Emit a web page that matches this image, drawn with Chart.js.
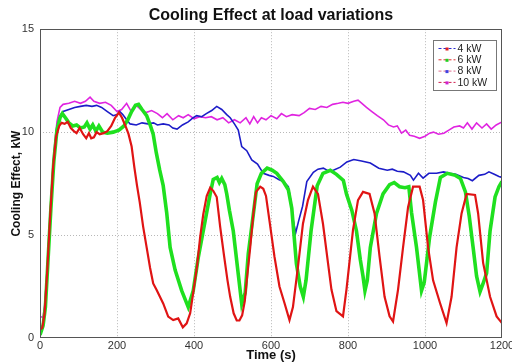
<!DOCTYPE html>
<html>
<head>
<meta charset="utf-8">
<title>Cooling Effect at load variations</title>
<script src="https://cdn.jsdelivr.net/npm/chart.js@4/dist/chart.umd.min.js"></script>
<style>
  html, body { margin: 0; padding: 0; background: #fff; }
  #wrap { width: 512px; height: 363px; }
</style>
</head>
<body>
<div id="wrap"><canvas id="coolChart" width="512" height="363"></canvas></div>
<script>
/*  Cooling effect vs time, four load levels  */

/* ====== DATA (time s, cooling effect kW) ====== */
var seriesNames = ["4 kW", "6 kW", "8 kW", "10 kW"];
var xTicks = [0, 200, 400, 600, 800, 1000, 1200];
var yTicks = [0, 5, 10, 15];

var load4 = [[0,0.5],[8,0.6],[14,1.5],[20,3.5],[28,6.3],[36,8.8],[44,10.2],[52,10.8],[60,11.0],[75,11.1],
  [90,11.2],[105,11.25],[120,11.3],[135,11.25],[147,11.3],[160,11.2],[175,11.0],[190,10.8],[200,10.85],
  [207,11.0],[215,10.85],[225,10.6],[234,10.4],[250,10.35],[265,10.45],[280,10.4],[295,10.45],[305,10.35],
  [320,10.4],[335,10.35],[345,10.2],[356,10.15],[370,10.35],[385,10.5],[398,10.7],[407,10.8],[420,10.75],
  [432,10.9],[446,11.05],[459,11.25],[472,11.1],[485,10.85],[494,10.7],[505,10.4],[515,10.1],[524,9.3],
  [537,9.1],[550,8.65],[565,8.45],[580,8.0],[595,7.9],[606,7.85],[620,7.7],[632,7.6],[645,7.35],[652,6.6],
  [658,5.7],[664,5.1],[672,5.7],[682,6.4],[693,7.6],[710,8.05],[722,8.2],[736,8.25],[750,8.1],[762,8.15],
  [780,8.3],[797,8.55],[815,8.67],[835,8.6],[858,8.5],[880,8.25],[902,8.15],[915,8.2],[928,8.1],[944,8.07],
  [962,7.9],[970,7.67],[983,8.0],[995,7.77],[1010,8.0],[1030,8.0],[1048,8.07],[1065,8.0],[1080,7.95],
  [1100,7.8],[1112,7.75],[1123,7.64],[1140,7.9],[1155,7.95],[1166,8.07],[1180,7.95],[1192,7.85],[1200,7.8]];

var load6 = [[0,0.15],[8,0.6],[14,1.5],[20,3.5],[28,6.2],[36,8.6],[44,10.1],[52,10.7],[58,10.9],[66,10.7],
  [75,10.45],[85,10.3],[95,10.35],[105,10.2],[115,10.25],[122,10.45],[130,10.15],[137,10.35],[145,10.05],
  [153,10.3],[163,10.0],[175,9.95],[190,10.0],[205,10.1],[218,10.3],[228,10.6],[238,11.0],[248,11.3],
  [256,11.35],[265,11.1],[277,10.8],[287,10.3],[294,9.9],[302,9.0],[311,8.15],[320,7.4],[329,6.1],
  [338,4.4],[351,3.3],[368,2.3],[385,1.5],[398,2.3],[411,3.9],[429,5.7],[442,7.0],[450,7.7],[460,7.8],
  [466,7.55],[472,7.75],[480,7.45],[485,7.0],[492,6.2],[502,5.2],[515,3.1],[524,1.65],[533,2.2],[541,4.1],
  [554,6.0],[564,7.5],[575,8.0],[590,8.25],[603,8.15],[615,8.0],[632,7.6],[645,7.2],[654,6.3],[666,3.6],
  [676,2.5],[684,2.0],[691,2.8],[704,5.2],[712,6.3],[720,7.4],[735,8.0],[754,8.15],[770,7.95],[788,7.65],
  [796,7.0],[810,6.2],[822,5.2],[832,3.8],[839,3.0],[844,2.3],[850,2.8],[858,4.4],[874,6.05],[891,7.0],
  [908,7.45],[920,7.55],[934,7.35],[948,7.3],[958,7.35],[965,6.1],[978,4.4],[991,2.3],[998,2.7],[1005,3.8],
  [1012,4.9],[1027,6.6],[1040,7.8],[1058,8.0],[1079,7.9],[1092,7.75],[1105,7.1],[1115,5.9],[1125,4.4],
  [1134,3.0],[1143,2.25],[1150,2.6],[1160,3.15],[1169,5.2],[1182,6.85],[1192,7.35],[1200,7.6]];

var load8 = [[0,1.05],[8,1.0],[12,1.6],[20,3.7],[28,6.5],[36,9.0],[44,10.5],[52,11.2],[60,11.35],[75,11.4],
  [90,11.5],[105,11.4],[118,11.5],[130,11.7],[140,11.5],[155,11.4],[170,11.45],[185,11.3],[200,11.0],
  [212,11.1],[225,11.4],[237,11.0],[250,11.3],[262,11.1],[275,10.95],[290,11.05],[305,10.9],[318,10.7],
  [330,10.9],[345,10.6],[360,10.8],[372,10.7],[385,10.85],[400,10.65],[415,10.75],[430,10.7],[445,10.75],
  [460,10.6],[475,10.7],[490,10.45],[505,10.6],[520,10.45],[535,10.7],[545,10.4],[555,10.75],[565,10.45],
  [575,10.7],[587,10.6],[600,10.8],[615,10.65],[627,10.9],[640,10.75],[655,10.85],[673,10.8],[686,10.95],
  [700,11.15],[715,11.1],[730,11.25],[745,11.2],[760,11.35],[775,11.4],[787,11.45],[800,11.4],[815,11.5],
  [826,11.55],[836,11.4],[848,11.2],[862,11.0],[876,10.8],[892,10.6],[905,10.35],[918,10.25],[928,10.3],
  [939,9.95],[950,10.1],[960,9.85],[972,9.8],[986,9.7],[1000,9.8],[1012,9.95],[1022,10.0],[1035,9.9],
  [1049,9.95],[1062,10.1],[1075,10.25],[1090,10.3],[1100,10.2],[1110,10.45],[1122,10.15],[1134,10.45],
  [1148,10.2],[1160,10.4],[1172,10.15],[1185,10.35],[1200,10.5]];

var load10 = [[0,0.4],[6,0.5],[12,1.2],[18,3.0],[26,5.8],[34,8.3],[42,9.8],[50,10.3],[56,10.45],[64,10.4],
  [72,10.5],[80,10.2],[88,10.05],[95,9.95],[103,10.2],[112,9.9],[120,9.7],[127,9.95],[133,9.7],[140,9.75],
  [147,10.0],[155,9.9],[165,9.95],[175,10.05],[185,10.3],[195,10.7],[205,10.95],[213,10.7],[222,10.3],
  [230,9.9],[238,9.3],[245,8.3],[252,7.4],[259,6.6],[268,5.4],[277,4.4],[286,3.4],[294,2.65],[303,2.33],
  [320,1.68],[333,1.04],[346,0.87],[359,0.95],[371,0.52],[381,0.71],[390,1.2],[398,2.2],[408,3.5],[416,4.9],
  [424,6.0],[433,6.9],[442,7.3],[450,7.15],[459,6.85],[468,5.4],[478,4.0],[487,2.8],[494,2.0],[503,1.2],
  [511,0.85],[518,0.85],[525,1.1],[532,1.8],[537,2.8],[546,4.4],[554,6.0],[561,7.1],[572,7.35],[580,7.25],
  [587,6.9],[596,5.7],[609,3.95],[622,2.5],[635,1.7],[648,0.87],[657,1.5],[670,3.45],[683,5.55],[696,6.7],
  [709,7.35],[722,7.0],[735,5.55],[748,3.65],[757,2.35],[770,1.3],[787,1.05],[796,2.35],[813,5.25],
  [826,6.7],[839,7.1],[856,7.0],[869,6.05],[882,3.95],[895,2.0],[908,1.05],[917,0.8],[930,2.35],[943,4.4],
  [956,6.35],[969,7.35],[986,7.35],[995,6.7],[1008,4.4],[1021,2.8],[1039,1.7],[1056,0.72],[1069,2.0],
  [1082,4.4],[1095,6.05],[1108,7.0],[1130,6.95],[1138,6.05],[1151,3.65],[1169,2.0],[1186,1.05],[1200,0.72]];

/* legend swatches: line colour + marker colour, as in the figure */
var legendLine = ["#2b2bd0", "#e03030", "#e07090", "#d02050"];
var legendMark = ["#e02020", "#20d020", "#4040e0", "#d020d0"];

var FONT = "'Liberation Sans', Arial, Helvetica, sans-serif";

function toPoints(pairs) {
    return pairs.map(function (p) { return { x: p[0], y: p[1] }; });
}

/* ====== PLOT BOX + LEGEND ====== */
var boxPlugin = {
    id: "boxPlugin",
    afterDraw: function (chart) {
        var ctx = chart.ctx, a = chart.chartArea;
        ctx.save();
        ctx.strokeStyle = "#555";
        ctx.lineWidth = 1;
        ctx.strokeRect(Math.round(a.left) + 0.5, Math.round(a.top) + 0.5,
            Math.round(a.right - a.left) - 1, Math.round(a.bottom - a.top) - 1);

        // legend box, top right inside the axes
        var bw = 63, bh = 50;
        var bx = Math.round(a.right) - bw - 6 + 0.5, by = Math.round(a.top) + 11 + 0.5;
        ctx.fillStyle = "#fff";
        ctx.fillRect(bx, by, bw, bh);
        ctx.strokeStyle = "#777";
        ctx.strokeRect(bx, by, bw, bh);
        ctx.font = "10.5px " + FONT;
        ctx.textBaseline = "middle";
        ctx.textAlign = "left";
        seriesNames.forEach(function (name, i) {
            var yy = by + 8 + i * 11.3;
            ctx.strokeStyle = legendLine[i];
            ctx.lineWidth = 1;
            ctx.setLineDash([3, 2]);
            ctx.beginPath();
            ctx.moveTo(bx + 5, yy);
            ctx.lineTo(bx + 22, yy);
            ctx.stroke();
            ctx.setLineDash([]);
            ctx.fillStyle = legendMark[i];
            ctx.fillRect(bx + 12, yy - 1, 3, 3);
            ctx.fillStyle = "#222";
            ctx.fillText(name, bx + 24, yy + 0.5);
        });
        ctx.restore();
    }
};

function edgeGrid(ctx) {
    var n = ctx.scale.ticks.length;
    return (ctx.index === 0 || ctx.index === n - 1) ? "rgba(0,0,0,0)" : "#b8b8b8";
}

function plainTick(value) { return String(value); }

/* ====== CHART ====== */
var chart = new Chart(document.getElementById("coolChart").getContext("2d"), {
    type: "line",
    data: {
        datasets: [
            { label: seriesNames[0], data: toPoints(load4), borderColor: "#1c1cc8",
              borderWidth: 1.6, order: 3 },
            { label: seriesNames[1], data: toPoints(load6), borderColor: "#1fe01f",
              borderWidth: 3.6, order: 2 },
            { label: seriesNames[2], data: toPoints(load8), borderColor: "#e024e0",
              borderWidth: 1.6, order: 4 },
            { label: seriesNames[3], data: toPoints(load10), borderColor: "#e01414",
              borderWidth: 2.2, order: 1 }
        ]
    },
    options: {
        responsive: false,
        animation: false,
        devicePixelRatio: 1,
        layout: { padding: { left: 0, right: 10, top: 0, bottom: 0 } },
        elements: {
            point: { radius: 0 },
            line: { tension: 0, fill: false }
        },
        plugins: {
            legend: { display: false },
            tooltip: { enabled: false },
            title: {
                display: true,
                text: "Cooling Effect at load variations",
                fullSize: false,
                color: "#111",
                font: { family: FONT, size: 16, weight: "bold" },
                padding: { top: 6, bottom: 4 }
            }
        },
        scales: {
            x: {
                type: "linear",
                min: 0, max: 1200,
                afterBuildTicks: function (s) { s.ticks = xTicks.map(function (v) { return { value: v }; }); },
                afterFit: function (s) { s.height = 25; s.paddingLeft = 0; s.paddingRight = 0; },
                ticks: { color: "#333", padding: 1, maxRotation: 0, callback: plainTick,
                         font: { family: FONT, size: 11 } },
                grid: { color: edgeGrid, drawTicks: false, lineWidth: 1 },
                border: { display: false, dash: [1, 2] },
                title: { display: true, text: "Time (s)", color: "#111",
                         font: { family: FONT, size: 13, weight: "bold" },
                         padding: { top: 0, bottom: 0 } }
            },
            y: {
                min: 0, max: 15,
                afterBuildTicks: function (s) { s.ticks = yTicks.map(function (v) { return { value: v }; }); },
                afterFit: function (s) { s.width = 40; s.paddingTop = 0; s.paddingBottom = 0; },
                ticks: { color: "#333", padding: 6, callback: plainTick,
                         font: { family: FONT, size: 11 } },
                grid: { color: edgeGrid, drawTicks: false, lineWidth: 1 },
                border: { display: false, dash: [1, 2] },
                title: { display: true, text: "Cooling Effect, kW", color: "#111",
                         font: { family: FONT, size: 12, weight: "bold" },
                         padding: { top: 9, bottom: 0 } }
            }
        }
    },
    plugins: [boxPlugin]
});
</script>
</body>
</html>
